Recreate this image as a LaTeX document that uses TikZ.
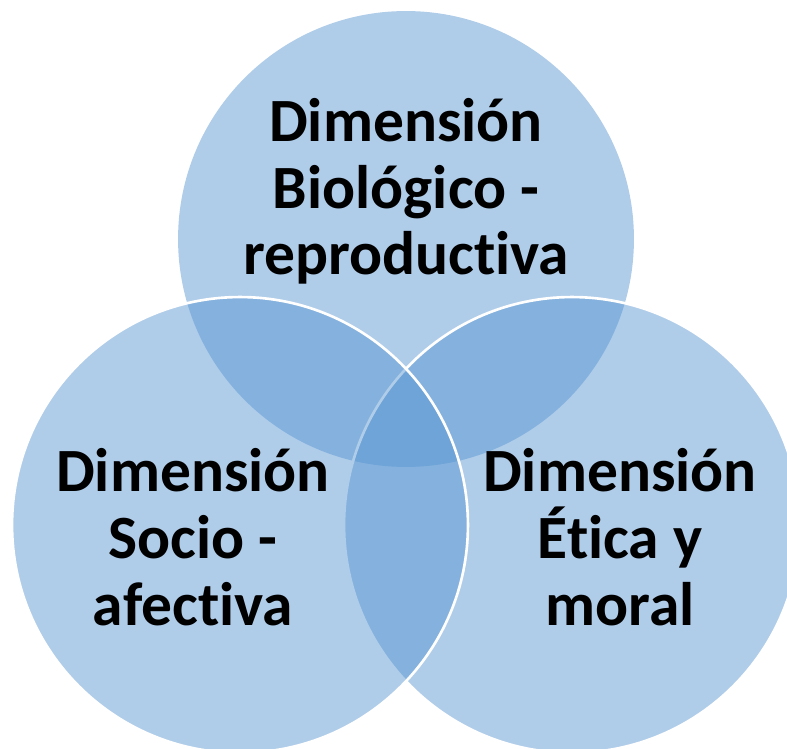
\documentclass[tikz,border=0pt]{standalone}
\usepackage{fontspec}
\setmainfont{Carlito}[Ligatures=NoCommon]
\usetikzlibrary{positioning}

\definecolor{vennblue}{RGB}{87,148,209}

\begin{document}
\begin{tikzpicture}[x=0.02cm, y=-0.02cm,
    ring/.style={circle, fill=vennblue, fill opacity=0.475, minimum size=9.12cm, inner sep=0pt},
    dimtext/.style={align=center, inner sep=0pt, font=\fontsize{35}{38}\selectfont\bfseries}]

    \useasboundingbox (0,0) rectangle (787,749);

    % circles
    \node[ring] (T) at (406,239) {};
    \node[ring, draw=white, line width=1.5pt] (R) at (572,525) {};
    \node[ring, draw=white, line width=1.5pt] (L) at (240,525) {};

    % texts
    \node[dimtext, anchor=base] (tT) at (406,275) {Dimensión\\Biológico -\\reproductiva};
    \node[dimtext, anchor=base] (tL) at (193,625) {Dimensión\\Socio -\\afectiva};
    \node[dimtext, anchor=base] (tR) at (620,625) {Dimensión\\Ética y\\moral};
\end{tikzpicture}
\end{document}
